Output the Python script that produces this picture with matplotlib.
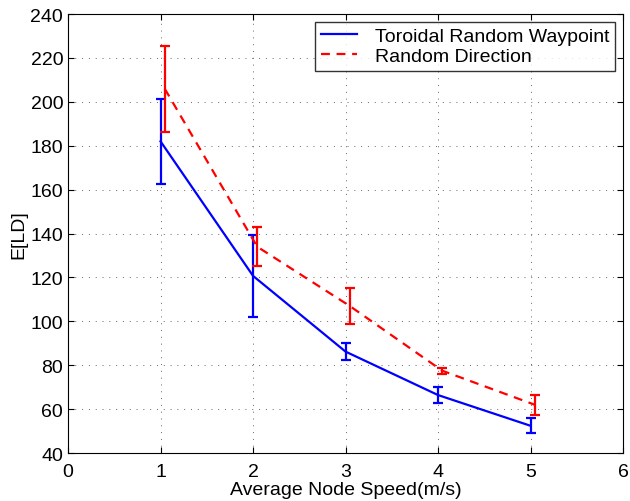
import numpy as np
import matplotlib
matplotlib.use('Agg')
import matplotlib.pyplot as plt

plt.rcParams['font.family'] = ['Liberation Sans', 'DejaVu Sans']

speed = [1, 2, 3, 4, 5]
# Toroidal Random Waypoint
trw_mean = [182, 120.7, 86.2, 66.4, 52.4]
trw_err = [19.5, 18.6, 4.0, 3.5, 3.4]
# Random Direction
rd_mean = [206, 134, 107, 77.5, 62]
rd_err = [19.6, 8.8, 8.2, 1.3, 4.5]
rd_shift = 0.045

fig = plt.figure(figsize=(6.3, 5.02), dpi=100)
ax = fig.add_axes([0.108, 0.0956, 0.881, 0.8744])

ax.errorbar(speed, trw_mean, yerr=trw_err, color='#0000ff', lw=1.6,
            capsize=3.5, capthick=1.6, elinewidth=1.6,
            label='Toroidal Random Waypoint')
ax.errorbar(np.array(speed) + rd_shift, rd_mean, yerr=rd_err, color='#ff0000',
            lw=1.6, ls=(0, (4, 3)), capsize=3.5, capthick=1.6, elinewidth=1.6,
            label='Random Direction')

ax.set_xlim(0, 6)
ax.set_ylim(40, 240)
ax.set_xticks(range(0, 7))
ax.set_yticks(range(40, 241, 20))
ax.grid(True, ls=(0, (1, 6)), color='#666666', lw=0.7)
ax.tick_params(direction='in', top=True, right=True, labelsize=14, length=4)
ax.tick_params(axis='x', pad=7)
for s in ax.spines.values():
    s.set_linewidth(0.8)

ax.set_xlabel('Average Node Speed(m/s)', fontsize=14, labelpad=1)
ax.set_ylabel('E[LD]', fontsize=14, labelpad=2)

handles, labels = ax.get_legend_handles_labels()
handles = [h[0] for h in handles]
leg = ax.legend(handles, labels, loc='upper right', fontsize=14, frameon=True,
                fancybox=False, edgecolor='black', borderpad=0.3,
                handlelength=1.9, handletextpad=0.9, labelspacing=0.1,
                borderaxespad=0.4)
leg.get_frame().set_linewidth(1.0)

fig.savefig('out.png', dpi=100)
